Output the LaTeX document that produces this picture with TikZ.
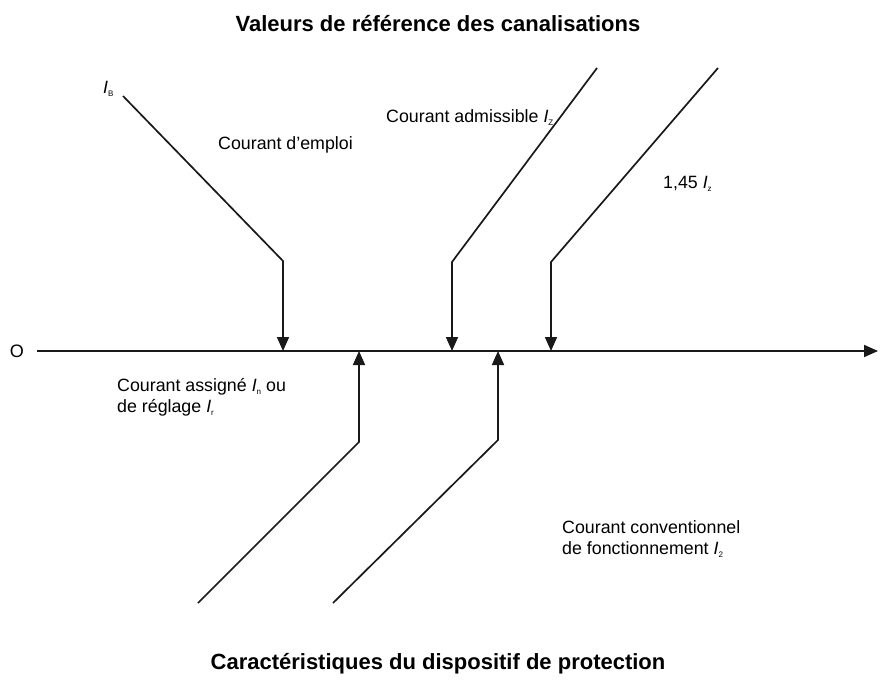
\documentclass[tikz,border=0pt]{standalone}
\usepackage{fontspec}
\setmainfont{Liberation Sans}
\usetikzlibrary{arrows.meta}
\newcommand{\cur}[1]{\textit{I}\raisebox{-3pt}{\fontsize{8}{8}\selectfont #1}}
\begin{document}
\begin{tikzpicture}[x=1pt,y=1pt,
  ln/.style={line width=1.7pt,color=black!90},
  tip/.style={-{Triangle[length=14pt,width=12pt]}},
  lbl/.style={font=\fontsize{17.8}{21}\selectfont,inner sep=0pt,anchor=west,align=left},
  ttl/.style={font=\fontsize{22}{24}\selectfont\bfseries,inner sep=0pt}]
\useasboundingbox (0,0) rectangle (890,-679);
% titles
\node[ttl] (t1) at (438,-24) {Valeurs de référence des canalisations};
\node[ttl] (t2) at (438,-664) {Caractéristiques du dispositif de protection};
% axis
\node[font=\fontsize{18}{20}\selectfont,inner sep=0pt] (O) at (17,-351) {O};
\coordinate (a0) at (37,-351);
\coordinate (a1) at (878,-351);
\draw[ln,tip] (a0) -- (a1);
% down arrows
\coordinate (s1) at (123,-96);  \coordinate (b1) at (283,-261); \coordinate (e1) at (283,-351);
\coordinate (s2) at (597,-68);  \coordinate (b2) at (452,-262); \coordinate (e2) at (452,-351);
\coordinate (s3) at (718,-68);  \coordinate (b3) at (551,-262); \coordinate (e3) at (551,-351);
\draw[ln,tip] (s1) -- (b1) -- (e1);
\draw[ln,tip] (s2) -- (b2) -- (e2);
\draw[ln,tip] (s3) -- (b3) -- (e3);
% up arrows
\coordinate (s4) at (198,-603); \coordinate (b4) at (359,-442); \coordinate (e4) at (359,-351);
\coordinate (s5) at (333,-603); \coordinate (b5) at (498,-440); \coordinate (e5) at (498,-351);
\draw[ln,tip] (s4) -- (b4) -- (e4);
\draw[ln,tip] (s5) -- (b5) -- (e5);
% labels
\node[lbl] (lb) at (103,-89) {\cur{B}};
\node[lbl] (l1) at (218,-145) {Courant d’emploi};
\node[lbl] (l2) at (386,-118) {Courant admissible \cur{Z}};
\node[lbl] (l3) at (663,-184) {1,45 \cur{z}};
\node[lbl,anchor=north west] (l4) at (117,-378) {Courant assigné \cur{n} ou\\de réglage \cur{r}};
\node[lbl,anchor=north west] (l5) at (562,-520) {Courant conventionnel\\de fonctionnement \cur{2}};
\end{tikzpicture}
\end{document}
